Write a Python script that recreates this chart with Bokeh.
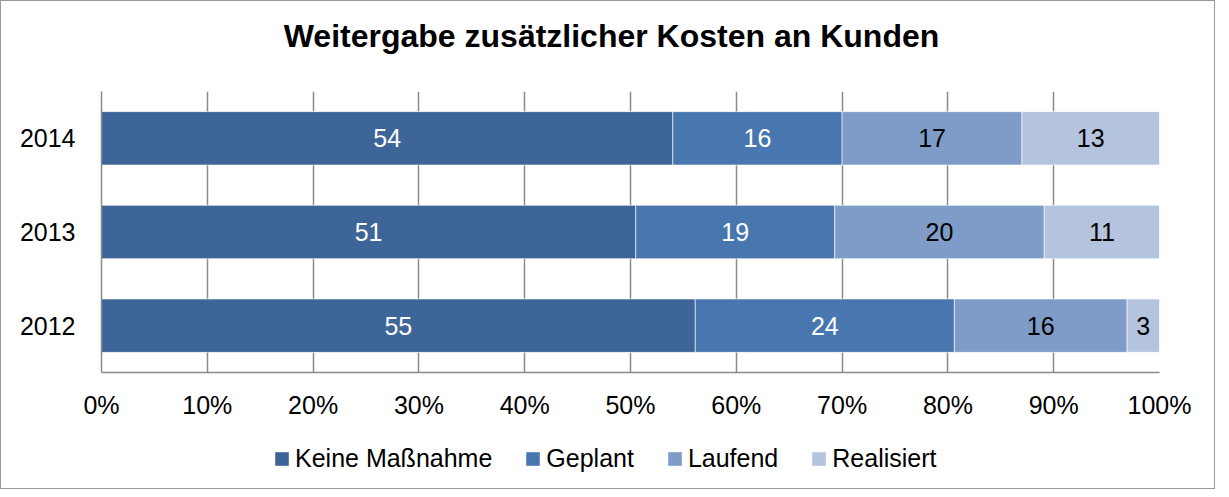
from bokeh.plotting import figure
from bokeh.layouts import column
from bokeh.models import (ColumnDataSource, FactorRange, Range1d, FixedTicker,
                          NumeralTickFormatter, Legend, LegendItem, LabelSet, Label)
from bokeh.core.properties import value
from bokeh.embed import file_html
from bokeh.resources import INLINE

title_text = "Weitergabe zusätzlicher Kosten an Kunden"
years = ["2012", "2013", "2014"]
series = ["Keine Maßnahme", "Geplant", "Laufend", "Realisiert"]
keine = [55, 51, 54]
geplant = [24, 19, 16]
laufend = [16, 20, 17]
realisiert = [3, 11, 13]
x_ticks = [0, 0.1, 0.2, 0.3, 0.4, 0.5, 0.6, 0.7, 0.8, 0.9, 1.0]

colors = ["#3E6597", "#4877AF", "#7E9CC7", "#B4C3DE"]
text_colors = ["white", "white", "black", "black"]
FONT = "Liberation Sans"
W = 1213

values = [keine, geplant, laufend, realisiert]
totals = [sum(v[i] for v in values) for i in range(len(years))]


def blank(h):
    f = figure(width=W, height=h, x_range=Range1d(0, 1), y_range=Range1d(0, 1),
               output_backend="svg", toolbar_location=None,
               x_axis_location=None, y_axis_location=None, min_border=0)
    f.xgrid.grid_line_color = None
    f.ygrid.grid_line_color = None
    f.outline_line_color = None
    return f


# title strip
pt = blank(90)
pt.add_layout(Label(x=510, y=56, x_units="screen", y_units="screen",
                    text=title_text, text_align="center",
                    text_baseline="alphabetic", text_font=FONT,
                    text_font_size="32px", text_font_style="bold",
                    text_color="black"))

# main chart
p = figure(width=W, height=331, y_range=FactorRange(factors=years),
           x_range=Range1d(0, 1), output_backend="svg", toolbar_location=None,
           min_border_left=100, min_border_right=55, min_border_top=0,
           min_border_bottom=50)

left = [0.0] * len(years)
for k, name in enumerate(series):
    share = [values[k][i] / totals[i] for i in range(len(years))]
    right = [left[i] + share[i] for i in range(len(years))]
    src = ColumnDataSource(dict(
        y=years, left=list(left), right=right,
        mid=[(left[i] + right[i]) / 2 for i in range(len(years))],
        lab=[str(v) for v in values[k]]))
    p.hbar(y="y", left="left", right="right", height=0.57, source=src,
           fill_color=colors[k], line_color="white", line_alpha=0.6,
           line_width=1)
    p.add_layout(LabelSet(x="mid", y="y", text="lab", source=src,
                          text_align="center", text_baseline="middle",
                          text_font=value(FONT), text_font_size="25px",
                          text_color=text_colors[k]))
    left = right

p.xaxis.ticker = FixedTicker(ticks=x_ticks)
p.xaxis.formatter = NumeralTickFormatter(format="0%")
for ax in (p.xaxis[0], p.yaxis[0]):
    ax.axis_line_color = "#8a8a8a"
    ax.axis_line_width = 1.5
    ax.major_tick_line_color = None
    ax.minor_tick_line_color = None
    ax.major_label_text_font = FONT
    ax.major_label_text_font_size = "25px"
    ax.major_label_text_color = "black"
p.xaxis.major_label_standoff = 12
p.yaxis.major_label_standoff = 20
p.xgrid.grid_line_color = "#8a8a8a"
p.xgrid.grid_line_width = 1.5
p.ygrid.grid_line_color = None
p.outline_line_color = None

# legend strip (swatch renderers sit outside the visible range)
pl = blank(66)
items = []
for k, name in enumerate(series):
    r = pl.hbar(y=[-5], left=[0], right=[1], height=0.5, fill_color=colors[k],
                line_color=None)
    items.append(LegendItem(label=name, renderers=[r]))
legend = Legend(items=items, orientation="horizontal", location=(172, 15),
                glyph_width=17, glyph_height=17, label_standoff=5, spacing=32,
                padding=0, margin=0, border_line_color=None,
                background_fill_alpha=0, label_text_font=FONT,
                label_text_font_size="25px", label_text_color="black")
pl.add_layout(legend, "center")

layout = column(pt, p, pl, spacing=0,
                styles={"border": "1px solid #999999"})

open("out.html", "w").write(file_html(layout, INLINE))
